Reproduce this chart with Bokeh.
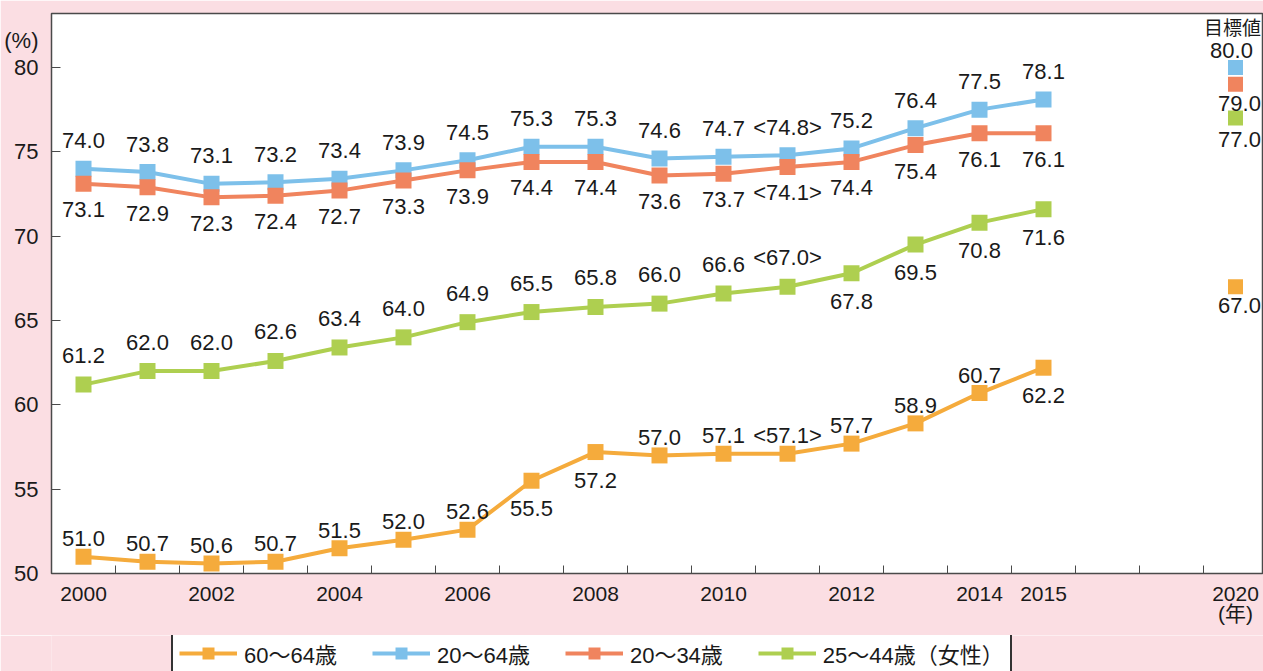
from bokeh.plotting import figure
from bokeh.layouts import column
from bokeh.models import (ColumnDataSource, Range1d, FixedTicker, Legend, LegendItem, Label)
from bokeh.core.properties import value
from bokeh.embed import file_html
from bokeh.resources import INLINE

years = list(range(2000, 2016))
target_year = 2020
tick_years = [2000, 2002, 2004, 2006, 2008, 2010, 2012, 2014, 2015, 2020]
y_ticks = [50, 55, 60, 65, 70, 75, 80]

age_60_64 = [51.0, 50.7, 50.6, 50.7, 51.5, 52.0, 52.6, 55.5, 57.2, 57.0, 57.1, 57.1, 57.7, 58.9, 60.7, 62.2]
age_20_64 = [74.0, 73.8, 73.1, 73.2, 73.4, 73.9, 74.5, 75.3, 75.3, 74.6, 74.7, 74.8, 75.2, 76.4, 77.5, 78.1]
age_20_34 = [73.1, 72.9, 72.3, 72.4, 72.7, 73.3, 73.9, 74.4, 74.4, 73.6, 73.7, 74.1, 74.4, 75.4, 76.1, 76.1]
women_25_44 = [61.2, 62.0, 62.0, 62.6, 63.4, 64.0, 64.9, 65.5, 65.8, 66.0, 66.6, 67.0, 67.8, 69.5, 70.8, 71.6]

names = ["60〜64歳", "20〜64歳", "20〜34歳", "25〜44歳（女性）"]
targets = [67.0, 80.0, 79.0, 77.0]
estimate_year = 2011

# label placement per point: 1 = above, -1 = below
pos_60_64 = [1, 1, 1, 1, 1, 1, 1, -1, -1, 1, 1, 1, 1, 1, 1, -1]
pos_20_64 = [1] * 16
pos_20_34 = [-1] * 16
pos_25_44 = [1] * 12 + [-1] * 4


def xpos(y):
    # 2000..2015 -> 0..15, then two empty slots, 2020 -> 18
    return y - 2000 if y <= 2015 else 18


FONT = "Liberation Sans"
CJK = "Noto Sans CJK JP"
PINK = "#FBDEE3"
DARK = "#4a4a4a"
TXT = "#1a1a1a"

p = figure(width=1263, height=635, output_backend="svg", toolbar_location=None,
           x_range=Range1d(-0.5, -0.5 + 1212 / 64), y_range=Range1d(50, 83.2),
           min_border_left=51, min_border_right=0, min_border_top=13, min_border_bottom=62)
p.border_fill_color = PINK
p.background_fill_color = "white"
p.outline_line_color = DARK
p.outline_line_width = 1.5
p.xgrid.visible = False
p.ygrid.visible = False

# y axis: labelled ticks + "(%)" unit label; tick marks drawn as minor ticks
unit_y = 81.6
p.yaxis.ticker = FixedTicker(ticks=y_ticks + [unit_y], minor_ticks=y_ticks)
p.yaxis.major_label_overrides = {unit_y: "(%)"}
p.yaxis.major_tick_line_color = None
p.yaxis.minor_tick_in = 9
p.yaxis.minor_tick_out = 0
p.yaxis.minor_tick_line_color = DARK
p.yaxis.axis_line_color = DARK
p.yaxis.major_label_standoff = 7
p.yaxis.major_label_text_font = FONT
p.yaxis.major_label_text_font_size = "22px"
p.yaxis.major_label_text_color = TXT

p.xaxis.ticker = FixedTicker(ticks=[xpos(y) for y in tick_years],
                             minor_ticks=[i + 0.5 for i in range(0, 18)])
p.xaxis.major_label_overrides = {xpos(y): (str(y) if y != target_year else f"{y}\n(年)")
                                 for y in tick_years}
p.xaxis.major_tick_line_color = None
p.xaxis.minor_tick_in = 8
p.xaxis.minor_tick_out = 0
p.xaxis.minor_tick_line_color = DARK
p.xaxis.axis_line_color = DARK
p.xaxis.major_label_standoff = 2
p.xaxis.major_label_text_font = FONT + ", " + CJK
p.xaxis.major_label_text_font_size = "21px"
p.xaxis.major_label_text_line_height = 0.9
p.xaxis.major_label_text_color = TXT

series = [
    (names[0], age_60_64, pos_60_64, targets[0], "#F5AB3C", -18, 28),
    (names[1], age_20_64, pos_20_64, targets[1], "#7DC0EA", -28, 28),
    (names[2], age_20_34, pos_20_34, targets[2], "#F0845E", -28, 26),
    (names[3], women_25_44, pos_25_44, targets[3], "#AECF50", -29, 28),
]

# legend strip (separate figure below the chart)
lg = figure(width=1263, height=36, output_backend="svg", toolbar_location=None,
            x_range=Range1d(0, 1), y_range=Range1d(0, 1),
            x_axis_location=None, y_axis_location=None,
            min_border_left=51, min_border_right=0, min_border_top=0, min_border_bottom=0)
lg.border_fill_color = PINK
lg.background_fill_color = PINK
lg.outline_line_color = None
lg.xgrid.visible = False
lg.ygrid.visible = False

items = []
xs = [xpos(y) for y in years]
for name, vals, pos, tv, color, up, down in series:
    src = ColumnDataSource(dict(x=xs, y=vals))
    p.line("x", "y", source=src, line_color=color, line_width=4)
    p.scatter("x", "y", source=src, marker="square", size=16, fill_color=color,
              line_color=None)
    texts = [(f"<{v:.1f}>" if yr == estimate_year else f"{v:.1f}") for yr, v in zip(years, vals)]
    offs = [up if s > 0 else down for s in pos]
    tsrc = ColumnDataSource(dict(x=xs, y=vals, t=texts, off=offs))
    p.text("x", "y", text="t", source=tsrc, y_offset="off", text_align="center",
           text_baseline="middle", text_font=value(FONT), text_font_size="22px",
           text_color=TXT)
    # 2020 target marker
    p.scatter([xpos(target_year)], [tv], marker="square", size=15, fill_color=color,
              line_color=None)
    # legend glyphs (renderers off-screen, used only as legend swatches)
    dummy = ColumnDataSource(dict(x=[-10, -9], y=[-10, -10]))
    l1 = lg.line("x", "y", source=dummy, line_color=color, line_width=4)
    l2 = lg.scatter("x", "y", source=dummy, marker="square", size=16, fill_color=color,
                    line_color=None)
    items.append(LegendItem(label=name, renderers=[l1, l2]))

# target value labels
tx = xpos(target_year)
tgt_off = [19, -17, 19, 21]  # below, above, below, below
tgt_dx = [4, -4, 4, 4]
tl = ColumnDataSource(dict(x=[tx] * 4, y=targets, t=[f"{v:.1f}" for v in targets],
                           off=tgt_off, dx=tgt_dx))
p.text("x", "y", text="t", source=tl, y_offset="off", x_offset="dx", text_align="center",
       text_baseline="middle", text_font=value(FONT), text_font_size="22px", text_color=TXT)
p.add_layout(Label(x=tx, y=targets[1], text="目標値", x_offset=-3, y_offset=41,
                   text_align="center", text_baseline="middle", text_font=CJK,
                   text_font_size="19px", text_color=TXT))

legend = Legend(items=items, orientation="horizontal", location=(120, -6))
legend.label_text_font = FONT + ", " + CJK
legend.label_text_font_size = "22px"
legend.label_text_color = TXT
legend.glyph_width = 58
legend.glyph_height = 30
legend.label_height = 30
legend.label_standoff = 7
legend.spacing = 35
legend.padding = 6
legend.margin = 0
legend.border_line_color = "#333333"
legend.border_line_width = 2
legend.border_line_alpha = 1
legend.background_fill_color = "white"
legend.background_fill_alpha = 1
lg.add_layout(legend, "center")

layout = column(p, lg, spacing=0)
open("out.html", "w").write(file_html(layout, INLINE))
